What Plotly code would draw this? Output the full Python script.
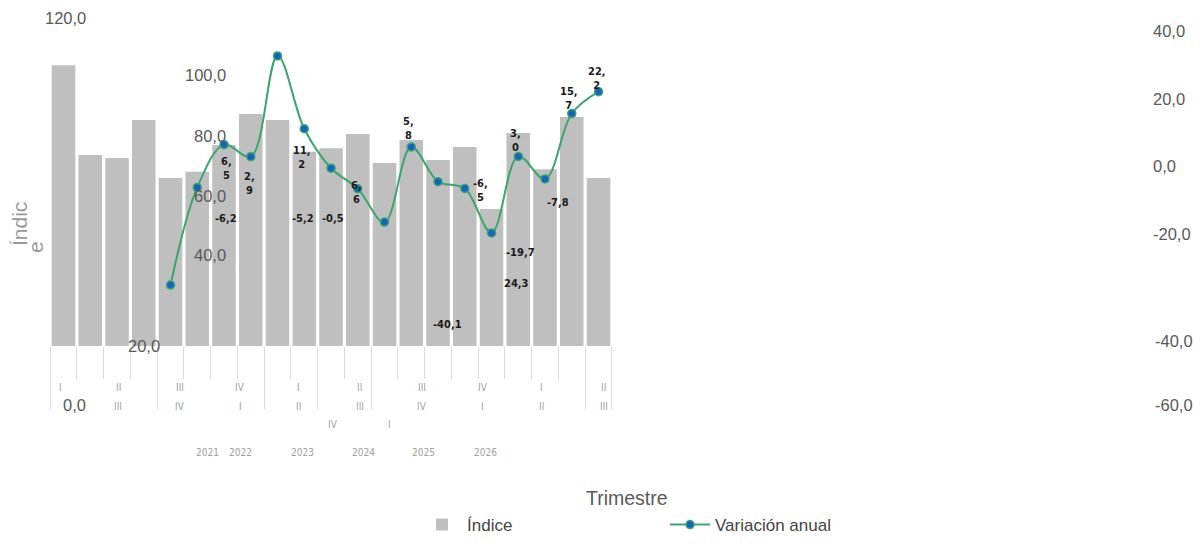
import plotly.graph_objects as go

# ---------------- data ----------------
trimestres = [
    "2021-I", "2021-II", "2021-III", "2021-IV",
    "2022-I", "2022-II", "2022-III", "2022-IV",
    "2023-I", "2023-II", "2023-III", "2023-IV",
    "2024-I", "2024-II", "2024-III", "2024-IV",
    "2025-I", "2025-II", "2025-III", "2025-IV",
    "2026-I",
]
indice = [102.9, 76.4, 75.5, 86.7, 69.6, 71.4, 79.3, 88.5, 86.7, 77.3, 78.4,
          82.6, 74.0, 80.8, 74.9, 78.7, 60.4, 82.9, 72.2, 87.6, 69.6]
variacion_start = 4
variacion = [-35.2, -6.2, 6.5, 2.9, 32.8, 11.2, -0.5, -6.6, -16.5, 5.8, -4.5,
             -6.5, -19.7, 3.0, -3.7, 15.7, 22.2]

left_tick_labels = ["120,0", "100,0", "80,0", "60,0", "40,0", "20,0", "0,0"]
right_tick_vals = [40, 20, 0, -20]
right_tick_text = ["40,0", "20,0", "0,0", "-20,0"]
right_extra_labels = ["-40,0", "-60,0"]

row1_labels = ["I", "II", "III", "IV", "I", "II", "III", "IV", "I", "II"]
row2_labels = ["III", "IV", "I", "II", "III", "IV", "I", "II", "III"]
row3_labels = ["IV", "I"]
year_labels = ["2021", "2022", "2023", "2024", "2025", "2026"]

data_labels = ["6,<br>5", "2,<br>9", "11,<br>2", "-6,2", "-5,2", "-0,5", "6,<br>6",
               "5,<br>8", "-6,<br>5", "3,<br>0", "-7,8", "15,<br>7", "22,<br>2",
               "-19,7", "24,3", "-40,1"]

# ---------------- geometry (styling) ----------------
OFF = 8                     # page body margin
W, H = 1201 - OFF, 546 - OFF
P_LEFT, P_RIGHT, P_TOP, P_BOT = 48, 1152, 18, 346   # plot area in page pixels
ML, MT = P_LEFT - OFF, P_TOP - OFF
MR = W - (P_RIGHT - OFF)
MB = H - (P_BOT - OFF)
PW, PH = P_RIGHT - P_LEFT, P_BOT - P_TOP
UNIT = 26.75                # px per quarter


def px(xp):
    return (xp - P_LEFT) / PW


def py(yp):
    return (P_BOT - yp) / PH


x_idx = list(range(len(trimestres)))
line_x = x_idx[variacion_start:]

TXT = "#595959"
FONT = "Liberation Sans, Arial, sans-serif"
NARROW = "Liberation Sans Narrow, DejaVu Sans Condensed, Arial Narrow, sans-serif"

fig = go.Figure()
fig.add_trace(go.Bar(
    x=x_idx, y=indice, name="Índice", customdata=trimestres,
    marker=dict(color="#bfbfbf", line=dict(width=0)),
    hovertemplate="%{customdata}: %{y}<extra></extra>",
))
fig.add_trace(go.Scatter(
    x=line_x, y=variacion, name="Variación anual", yaxis="y2",
    mode="lines+markers",
    line=dict(color="#3aa56c", width=2, shape="spline", smoothing=1.0),
    marker=dict(size=8, color="#1565c0", line=dict(color="#3aa56c", width=1.5)),
))

all_seps = [i - 0.5 for i in range(len(trimestres) + 1)]
long_seps = [-0.5, 3.5, 7.5, 9.5, 11.5, 19.5, 20.5]

ann = []
left_pos = [(88, 18), (228, 75), (228, 136), (228, 196), (228, 255), (162, 346), (88, 405)]
for t, (xp, yp) in zip(left_tick_labels, left_pos):
    ann.append(dict(text=t, x=px(xp), y=py(yp), xref="paper", yref="paper",
                    xanchor="right", yanchor="middle", showarrow=False,
                    font=dict(size=16.5, color=TXT, family=FONT)))
for t, yp in zip(right_extra_labels, [341, 405]):
    ann.append(dict(text=t, x=px(1153), y=py(yp), xref="paper", yref="paper",
                    xanchor="left", yanchor="middle", showarrow=False,
                    font=dict(size=16.5, color=TXT, family=FONT)))

row1_x = [-0.13, 2.04, 4.36, 6.6, 8.8, 11.08, 13.4, 15.68, 17.85, 20.2]
row2_x = [2.04, 4.36, 6.6, 8.8, 11.08, 13.4, 15.68, 17.85, 20.2]
row3_x = [10.07, 12.2]
year_x = [5.4, 6.63, 8.92, 11.23, 13.44, 15.76]
for labels, xs, yp in [(row1_labels, row1_x, 388), (row2_labels, row2_x, 406),
                       (row3_labels, row3_x, 425), (year_labels, year_x, 452)]:
    for t, xv in zip(labels, xs):
        ann.append(dict(text=t, x=xv, y=py(yp), xref="x", yref="paper",
                        xanchor="center", yanchor="middle", showarrow=False,
                        font=dict(size=10, color="#a0a0a0", family=NARROW)))

dl_pos = [(6.11, -0.7), (6.97, -4.9), (8.92, 2.8), (6.07, -15.3), (8.95, -15.3),
          (10.07, -15.3), (10.97, -7.6), (12.88, 11.4), (15.57, -7.0), (16.88, 7.6),
          (18.49, -10.8), (18.9, 20.3), (19.94, 26.0), (17.07, -25.4), (16.95, -34.6),
          (14.37, -47.0)]
for t, (xv, yv) in zip(data_labels, dl_pos):
    ann.append(dict(text="<b>" + t + "</b>", x=xv, y=yv, xref="x", yref="y2",
                    xanchor="center", yanchor="middle", showarrow=False,
                    font=dict(size=11, color="#1a1a1a", family=NARROW)))

# axis titles
ann.append(dict(text="Índic", x=px(19), y=py(224), xref="paper", yref="paper",
                textangle=-90, showarrow=False, xanchor="center", yanchor="middle",
                font=dict(size=21, color="#999999", family=FONT)))
ann.append(dict(text="e", x=px(35), y=py(247), xref="paper", yref="paper",
                textangle=-90, showarrow=False, xanchor="center", yanchor="middle",
                font=dict(size=21, color="#999999", family=FONT)))
ann.append(dict(text="Trimestre", x=px(627), y=py(498), xref="paper", yref="paper",
                showarrow=False, xanchor="center", yanchor="middle",
                font=dict(size=19.5, color=TXT, family=FONT)))

fig.update_layout(
    width=W, height=H,
    margin=dict(l=ML, r=MR, t=MT, b=MB, autoexpand=False),
    paper_bgcolor="white", plot_bgcolor="white",
    bargap=0.12,
    showlegend=True,
    legend=dict(orientation="h", x=px(417), xanchor="left", y=py(507), yanchor="top",
                font=dict(size=17, color="#444444", family=FONT),
                itemwidth=40, entrywidth=193, entrywidthmode="pixels"),
    xaxis=dict(range=[-0.58, -0.58 + PW / UNIT], showticklabels=False, showgrid=False,
               zeroline=False, showline=False, tickmode="array", tickvals=long_seps,
               ticks="outside", ticklen=62, tickcolor="#d9d9d9", tickwidth=1,
               minor=dict(tickmode="array", tickvals=all_seps, ticks="outside",
                          ticklen=32, tickcolor="#d9d9d9", tickwidth=1)),
    yaxis=dict(range=[20, 20 + PH / 3.388], showticklabels=False, showgrid=False,
               zeroline=False, showline=False),
    yaxis2=dict(range=[(166.5 - P_BOT) / 3.37, (166.5 - P_TOP) / 3.37], overlaying="y",
                side="right", tickmode="array", tickvals=right_tick_vals,
                ticktext=right_tick_text, showgrid=False, zeroline=False, showline=False,
                tickfont=dict(size=16.5, color=TXT, family=FONT)),
    annotations=ann,
)

fig.write_html("out.html")
